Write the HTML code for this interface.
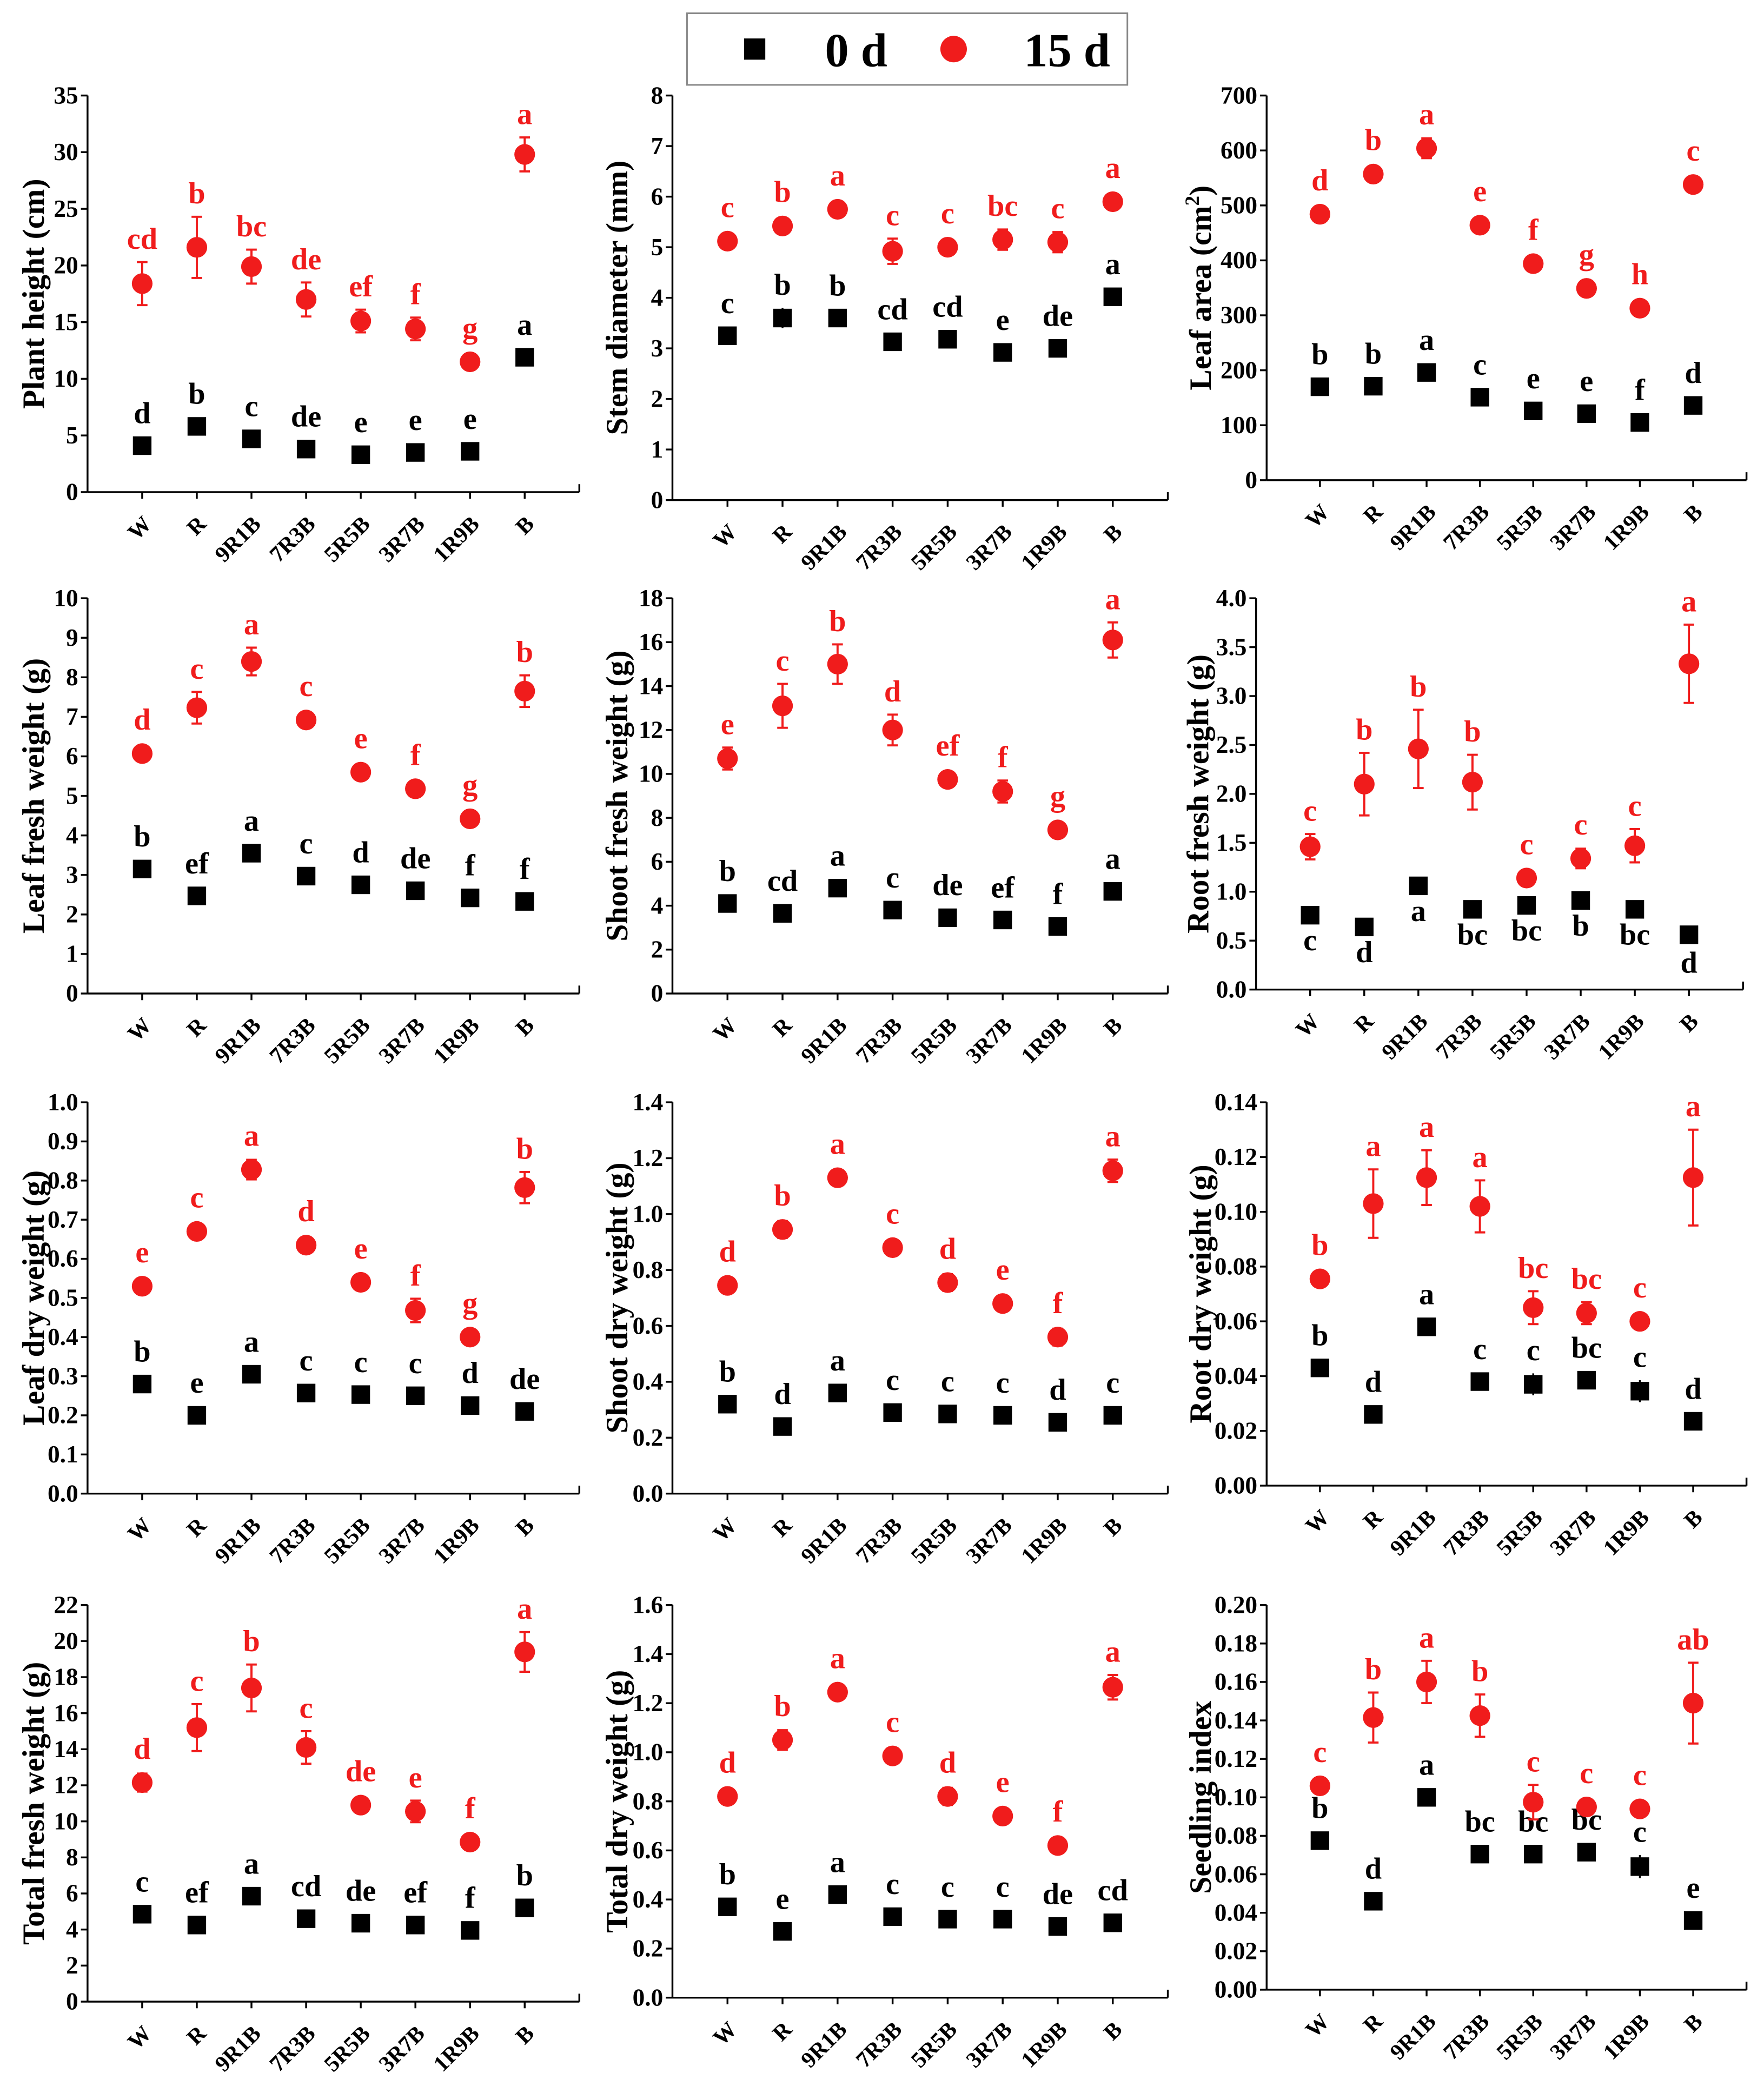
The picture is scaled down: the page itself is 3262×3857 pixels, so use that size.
<!DOCTYPE html>
<html><head><meta charset="utf-8">
<style>
html,body{margin:0;padding:0;background:#fff}
svg{display:block}
text{font-family:"Liberation Serif",serif;font-weight:bold}
</style></head>
<body>
<svg id="fig" xmlns="http://www.w3.org/2000/svg" width="3262" height="3857" viewBox="0 0 1330 1572.6" preserveAspectRatio="none">
<g>
<rect x="518" y="10" width="332" height="54" fill="#fff" stroke="#888" stroke-width="1.2"/>
<rect x="561" y="29" width="16" height="16" fill="#000"/>
<text x="622" y="50" font-size="36">0 d</text>
<circle cx="719" cy="37" r="10" fill="#f01c1c"/>
<text x="772" y="50" font-size="36">15 d</text>
</g>
</svg>
<script>
const categories = ["W","R","9R1B","7R3B","5R5B","3R7B","1R9B","B"];

const phD0 = [4.1,5.8,4.7,3.8,3.3,3.5,3.6,11.9];
const phD0Err = [0.3,0.3,0.3,0.3,0.3,0.3,0.3,0.5];
const phD15 = [18.4,21.6,19.9,17.0,15.1,14.4,11.5,29.8];
const phD15Err = [1.9,2.7,1.5,1.5,1.0,1.0,0.3,1.5];
const phLetD0 = ["d","b","c","de","e","e","e","a"];
const phLetD15 = ["cd","b","bc","de","ef","f","g","a"];

const sdD0 = [3.25,3.6,3.6,3.13,3.18,2.92,3.0,4.02];
const sdD0Err = [0.08,0.2,0.08,0.08,0.08,0.08,0.08,0.1];
const sdD15 = [5.12,5.42,5.75,4.92,5.0,5.15,5.1,5.9];
const sdD15Err = [0.15,0.08,0.15,0.25,0.15,0.2,0.2,0.15];
const sdLetD0 = ["c","b","b","cd","cd","e","de","a"];
const sdLetD15 = ["c","b","a","c","c","bc","c","a"];

const laD0 = [170,171,196,151,126,121,105,136];
const laD0Err = [4,4,5,4,4,4,4,5];
const laD15 = [484,557,604,464,394,349,313,538];
const laD15Err = [15,5,18,5,5,5,5,5];
const laLetD0 = ["b","b","a","c","e","e","f","d"];
const laLetD15 = ["d","b","a","e","f","g","h","c"];

const lfD0 = [3.15,2.47,3.55,2.97,2.75,2.6,2.42,2.33];
const lfD0Err = [0.08,0.15,0.08,0.08,0.08,0.08,0.08,0.08];
const lfD15 = [6.07,7.23,8.4,6.92,5.6,5.18,4.42,7.65];
const lfD15Err = [0.1,0.4,0.35,0.2,0.1,0.1,0.1,0.4];
const lfLetD0 = ["b","ef","a","c","d","de","f","f"];
const lfLetD15 = ["d","c","a","c","e","f","g","b"];

const sfD0 = [4.1,3.65,4.8,3.8,3.45,3.35,3.05,4.65];
const sfD0Err = [0.15,0.15,0.15,0.15,0.15,0.15,0.15,0.2];
const sfD15 = [10.7,13.1,15.0,12.0,9.75,9.2,7.45,16.1];
const sfD15Err = [0.5,1.0,0.9,0.7,0.2,0.5,0.2,0.8];
const sfLetD0 = ["b","cd","a","c","de","ef","f","a"];
const sfLetD15 = ["e","c","b","d","ef","f","g","a"];

const rfD0 = [0.76,0.64,1.06,0.82,0.86,0.91,0.82,0.56];
const rfD0Err = [0.02,0.02,0.02,0.02,0.02,0.02,0.02,0.05];
const rfD15 = [1.46,2.1,2.46,2.12,1.14,1.34,1.47,3.33];
const rfD15Err = [0.13,0.32,0.4,0.28,0.08,0.1,0.17,0.4];
const rfLetD0 = ["c","d","a","bc","bc","b","bc","d"];
const rfLetD15 = ["c","b","b","b","c","c","c","a"];

const ldD0 = [0.28,0.2,0.305,0.257,0.253,0.25,0.225,0.21];
const ldD0Err = [0.005,0.005,0.005,0.005,0.005,0.005,0.005,0.005];
const ldD15 = [0.53,0.67,0.828,0.635,0.54,0.468,0.4,0.782];
const ldD15Err = [0.02,0.02,0.025,0.008,0.01,0.03,0.02,0.04];
const ldLetD0 = ["b","e","a","c","c","c","d","de"];
const ldLetD15 = ["e","c","a","d","e","f","g","b"];

const sdwD0 = [0.32,0.24,0.36,0.29,0.285,0.28,0.255,0.28];
const sdwD0Err = [0.008,0.008,0.008,0.008,0.008,0.008,0.008,0.008];
const sdwD15 = [0.745,0.945,1.13,0.88,0.755,0.68,0.56,1.155];
const sdwD15Err = [0.01,0.03,0.015,0.01,0.03,0.01,0.03,0.04];
const sdwLetD0 = ["b","d","a","c","c","c","d","c"];
const sdwLetD15 = ["d","b","a","c","d","e","f","a"];

const rdD0 = [0.043,0.026,0.058,0.038,0.037,0.0385,0.0345,0.0235];
const rdD0Err = [0.001,0.001,0.001,0.001,0.004,0.001,0.004,0.002];
const rdD15 = [0.0755,0.103,0.1125,0.102,0.065,0.063,0.06,0.1125];
const rdD15Err = [0.001,0.0125,0.01,0.0095,0.006,0.004,0.001,0.0175];
const rdLetD0 = ["b","d","a","c","c","bc","c","d"];
const rdLetD15 = ["b","a","a","a","bc","bc","c","a"];

const tfD0 = [4.85,4.25,5.85,4.6,4.35,4.25,3.95,5.2];
const tfD0Err = [0.15,0.15,0.15,0.15,0.15,0.15,0.15,0.15];
const tfD15 = [12.15,15.2,17.4,14.1,10.9,10.55,8.85,19.4];
const tfD15Err = [0.5,1.3,1.3,0.9,0.2,0.6,0.2,1.1];
const tfLetD0 = ["c","ef","a","cd","de","ef","f","b"];
const tfLetD15 = ["d","c","b","c","de","e","f","a"];

const tdD0 = [0.37,0.27,0.42,0.33,0.32,0.32,0.29,0.305];
const tdD0Err = [0.01,0.01,0.01,0.01,0.01,0.01,0.01,0.01];
const tdD15 = [0.82,1.05,1.245,0.985,0.82,0.74,0.62,1.265];
const tdD15Err = [0.01,0.04,0.03,0.01,0.035,0.01,0.03,0.05];
const tdLetD0 = ["b","e","a","c","c","c","de","cd"];
const tdLetD15 = ["d","b","a","c","d","e","f","a"];

const siD0 = [0.0775,0.046,0.1,0.0705,0.0705,0.0715,0.064,0.036];
const siD0Err = [0.001,0.001,0.003,0.001,0.004,0.001,0.006,0.003];
const siD15 = [0.106,0.1415,0.16,0.1425,0.0975,0.095,0.094,0.149];
const siD15Err = [0.001,0.013,0.011,0.011,0.009,0.004,0.001,0.021];
const siLetD0 = ["b","d","a","bc","bc","bc","c","e"];
const siLetD15 = ["c","b","a","b","c","c","c","ab"];

const panels = [
 {id:"plant-height",title:"Plant height (cm)",max:35,step:5,dec:0,x0:66,y0:371,top:72,sp:41.2,tx:25,d0:phD0,e0:phD0Err,d15:phD15,e15:phD15Err,l0:phLetD0,l15:phLetD15},
 {id:"stem-diameter",title:"Stem diameter (mm)",max:8,step:1,dec:0,x0:507,y0:377,top:72,sp:41.5,tx:465,d0:sdD0,e0:sdD0Err,d15:sdD15,e15:sdD15Err,l0:sdLetD0,l15:sdLetD15},
 {id:"leaf-area",title:"Leaf area (cm",sup:"2",max:700,step:100,dec:0,x0:955,y0:362,top:72,sp:40.2,tx:905,d0:laD0,e0:laD0Err,d15:laD15,e15:laD15Err,l0:laLetD0,l15:laLetD15},
 {id:"leaf-fresh-weight",title:"Leaf fresh weight (g)",max:10,step:1,dec:0,x0:66,y0:749,top:451,sp:41.2,tx:25,d0:lfD0,e0:lfD0Err,d15:lfD15,e15:lfD15Err,l0:lfLetD0,l15:lfLetD15},
 {id:"shoot-fresh-weight",title:"Shoot fresh weight (g)",max:18,step:2,dec:0,x0:507,y0:749,top:451,sp:41.5,tx:465,d0:sfD0,e0:sfD0Err,d15:sfD15,e15:sfD15Err,l0:sfLetD0,l15:sfLetD15},
 {id:"root-fresh-weight",title:"Root fresh weight (g)",max:4,step:0.5,dec:1,x0:947,y0:746,top:451,sp:40.8,tx:903,d0:rfD0,e0:rfD0Err,d15:rfD15,e15:rfD15Err,l0:rfLetD0,l15:rfLetD15,below:true},
 {id:"leaf-dry-weight",title:"Leaf dry weight (g)",max:1.0,step:0.1,dec:1,x0:66,y0:1126,top:831,sp:41.2,tx:25,d0:ldD0,e0:ldD0Err,d15:ldD15,e15:ldD15Err,l0:ldLetD0,l15:ldLetD15},
 {id:"shoot-dry-weight",title:"Shoot dry weight (g)",max:1.4,step:0.2,dec:1,x0:507,y0:1126,top:831,sp:41.5,tx:465,d0:sdwD0,e0:sdwD0Err,d15:sdwD15,e15:sdwD15Err,l0:sdwLetD0,l15:sdwLetD15},
 {id:"root-dry-weight",title:"Root dry weight (g)",max:0.14,step:0.02,dec:2,x0:955,y0:1120,top:831,sp:40.2,tx:905,d0:rdD0,e0:rdD0Err,d15:rdD15,e15:rdD15Err,l0:rdLetD0,l15:rdLetD15},
 {id:"total-fresh-weight",title:"Total fresh weight (g)",max:22,step:2,dec:0,x0:66,y0:1509,top:1210,sp:41.2,tx:25,d0:tfD0,e0:tfD0Err,d15:tfD15,e15:tfD15Err,l0:tfLetD0,l15:tfLetD15},
 {id:"total-dry-weight",title:"Total dry weight (g)",max:1.6,step:0.2,dec:1,x0:507,y0:1506,top:1210,sp:41.5,tx:465,d0:tdD0,e0:tdD0Err,d15:tdD15,e15:tdD15Err,l0:tdLetD0,l15:tdLetD15},
 {id:"seedling-index",title:"Seedling index",max:0.2,step:0.02,dec:2,x0:955,y0:1500,top:1210,sp:40.2,tx:905,d0:siD0,e0:siD0Err,d15:siD15,e15:siD15Err,l0:siLetD0,l15:siLetD15}
];

const NS = "http://www.w3.org/2000/svg";
const svg = document.getElementById("fig");
function mk(tag, attrs, parent){
  const e = document.createElementNS(NS, tag);
  for (const k in attrs) e.setAttribute(k, attrs[k]);
  parent.appendChild(e);
  return e;
}
const RED = "#f01c1c";

panels.forEach(p => {
  const g = mk("g", {}, svg);
  
  
  const yS = v => p.y0 - (v / p.max) * (p.y0 - p.top);
  const xS = i => p.x0 + (i + 1) * p.sp;
  const xEnd = p.x0 + 9 * p.sp;
  const ya = mk("line", {x1:p.x0, y1:p.top, x2:p.x0, y2:p.y0, stroke:"#000", "stroke-width":1.4}, g);
  
  
  const xa = mk("line", {x1:p.x0, y1:p.y0, x2:xEnd, y2:p.y0, stroke:"#000", "stroke-width":1.4}, g);
  
  
  mk("line", {x1:xEnd, y1:p.y0, x2:xEnd, y2:p.y0-6, stroke:"#000", "stroke-width":1.4}, g);
  const n = Math.round(p.max / p.step);
  for (let k = 0; k <= n; k++) {
    const v = k * p.step, y = yS(v);
    mk("line", {x1:p.x0-5, y1:y, x2:p.x0, y2:y, stroke:"#000", "stroke-width":1.4}, g);
    const t = mk("text", {x:p.x0-7, y:y+6, "font-size":18.5, "text-anchor":"end"}, g);
    t.textContent = v.toFixed(p.dec);
    
    
  }
  const cy = (p.top+p.y0)/2;
  const tt = mk("text", {x:p.tx, y:cy, "font-size":23.5, "text-anchor":"middle", transform:`rotate(-90 ${p.tx} ${cy})`, dy:8}, g);
  tt.textContent = p.title;
  if (p.sup) {
    const s = mk("tspan", {dy:-9, "font-size":15}, tt);
    s.textContent = p.sup;
    const c = mk("tspan", {dy:9}, tt);
    c.textContent = ")";
  }
  
  
  categories.forEach((c, i) => {
    const x = xS(i);
    mk("line", {x1:x, y1:p.y0, x2:x, y2:p.y0+5, stroke:"#000", "stroke-width":1.4}, g);
    const lx = x + 8, ly = p.y0 + 25;
    const cl = mk("text", {x:lx, y:ly, "font-size":17, "text-anchor":"end", transform:`rotate(-45 ${lx} ${ly})`}, g);
    cl.textContent = c;
    
    
    const v0 = p.d0[i], e0 = p.e0[i];
    mk("line", {x1:x, y1:yS(v0+e0), x2:x, y2:yS(v0-e0), stroke:"#000", "stroke-width":1.4}, g);
    const sq = mk("rect", {x:x-7, y:yS(v0)-7, width:14, height:14, fill:"#000"}, g);
    
    
    const bl = mk("text", {x:x, y: p.below ? yS(v0-e0)+25 : Math.min(yS(v0+e0), yS(v0)-7)-10, "font-size":23, "text-anchor":"middle", fill:"#000"}, g);
    bl.textContent = p.l0[i];
    
    
    const v1 = p.d15[i], e1 = p.e15[i];
    const yt = yS(v1+e1), yb = yS(v1-e1);
    mk("line", {x1:x, y1:yt, x2:x, y2:yb, stroke:RED, "stroke-width":1.6}, g);
    mk("line", {x1:x-4, y1:yt, x2:x+4, y2:yt, stroke:RED, "stroke-width":1.6}, g);
    mk("line", {x1:x-4, y1:yb, x2:x+4, y2:yb, stroke:RED, "stroke-width":1.6}, g);
    const ci = mk("circle", {cx:x, cy:yS(v1), r:7.8, fill:RED}, g);
    
    
    const rl = mk("text", {x:x, y:Math.min(yt, yS(v1)-8)-10, "font-size":23, "text-anchor":"middle", fill:RED}, g);
    rl.textContent = p.l15[i];
    
    
  });
});
</script>
</body></html>
